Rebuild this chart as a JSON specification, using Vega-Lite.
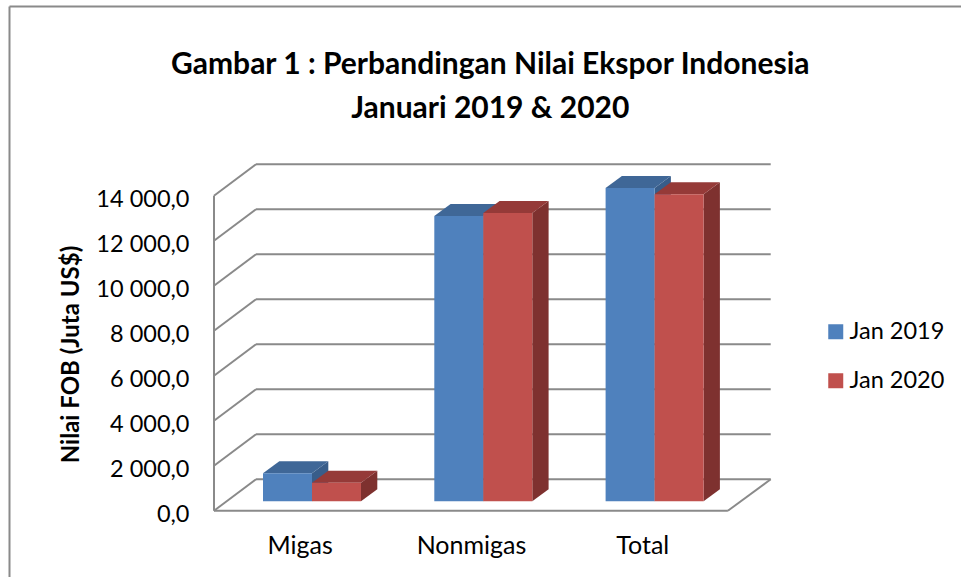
{
"$schema":"https://vega.github.io/schema/vega-lite/v6.json",
"width":951.5,"height":570.5,
"autosize":"none",
"padding":{"left":9.5,"top":6.5,"right":0,"bottom":0},
"background":"white",
"config":{"view":{"stroke":null},"font":"Lato"},
"title":{"text":["Gambar 1 : Perbandingan Nilai Ekspor Indonesia","Januari 2019 & 2020"],"font":"Lato","fontSize":30,"fontWeight":"bold","color":"#000000","anchor":"middle","frame":"group","lineHeight":44,"offset":-118,"dx":5},
"datasets":{
"nilai":[
{"kategori":"Migas","seri":"Jan 2019","nilai":1244},
{"kategori":"Migas","seri":"Jan 2020","nilai":827},
{"kategori":"Nonmigas","seri":"Jan 2019","nilai":12680},
{"kategori":"Nonmigas","seri":"Jan 2020","nilai":12813},
{"kategori":"Total","seri":"Jan 2019","nilai":13924},
{"kategori":"Total","seri":"Jan 2020","nilai":13644}],
"ticks":[{"v":0},{"v":2000},{"v":4000},{"v":6000},{"v":8000},{"v":10000},{"v":12000},{"v":14000}]
},
"resolve":{"axis":{"x":"independent","y":"independent"}},
"layer":[
{"data":{"values":[{"b":"kiri"}]},"mark":{"type":"rule","color":"#8a8a8a","strokeWidth":2},
 "encoding":{"x":{"datum":-1.6938,"type":"quantitative","scale":{"domain":[-1.6938,3.8608]},"axis":null}}},
{"data":{"values":[{"b":"atas"}]},"mark":{"type":"rule","color":"#8a8a8a","strokeWidth":2},
 "encoding":{"y":{"datum":22409,"type":"quantitative","scale":{"domain":[-2947,22409]},"axis":null}}},
{"data":{"name":"ticks"},
 "transform":[{"calculate":"datum.v+1396","as":"vb"},{"calculate":"-0.2548","as":"xb"},{"calculate":"2.75","as":"xe"}],
 "mark":{"type":"rule","color":"#8a8a8a","strokeWidth":2},
 "encoding":{
  "x":{"field":"xb","type":"quantitative","scale":{"domain":[-1.6938,3.8608],"nice":false,"zero":false},
   "axis":{"orient":"bottom","title":null,"values":[0,1,2],"offset":-66.3,"domain":false,"ticks":false,"grid":false,"labelFontSize":25,"labelFont":"Lato","labelColor":"#000000","labelPadding":23,"labelExpr":"['Migas','Nonmigas','Total'][datum.value]"}},
  "x2":{"field":"xe"},
  "y":{"field":"vb","type":"quantitative","scale":{"domain":[-2947,22409],"nice":false,"zero":false},
   "axis":{"orient":"left","title":"Nilai FOB (Juta US$)","values":[0,2000,4000,6000,8000,10000,12000,14000],"offset":-204.5,"domain":false,"ticks":false,"grid":false,"labelFontSize":23.5,"labelFont":"Lato","labelColor":"#000000","labelPadding":25,"labelOffset":3.5,"labelExpr":"replace(replace(format(datum.value,',.1f'),',',' '),'.',',')","titleFont":"Lato","titleFontSize":24,"titleFontWeight":"bold","titleColor":"#000000","titleX":-131,"titleY":347.5}}
 }},
{"data":{"name":"ticks"},
 "transform":[{"calculate":"datum.v+1396","as":"vb"},{"calculate":"-0.5","as":"xa"},{"calculate":"-0.2548","as":"xb"}],
 "mark":{"type":"rule","color":"#8a8a8a","strokeWidth":2},
 "encoding":{
  "x":{"field":"xa","type":"quantitative","scale":{"domain":[-1.6938,3.8608]},"axis":null},
  "x2":{"field":"xb"},
  "y":{"field":"v","type":"quantitative","scale":{"domain":[-2947,22409]},"axis":null},
  "y2":{"field":"vb"}}},
{"data":{"values":[{"xa":-0.5,"xb":-0.5,"ya":0,"yb":14000},{"xa":-0.5,"xb":2.5,"ya":0,"yb":0},{"xa":2.5,"xb":2.75,"ya":0,"yb":1396}]},
 "mark":{"type":"rule","color":"#8a8a8a","strokeWidth":2},
 "encoding":{
  "x":{"field":"xa","type":"quantitative","scale":{"domain":[-1.6938,3.8608]},"axis":null},
  "x2":{"field":"xb"},
  "y":{"field":"ya","type":"quantitative","scale":{"domain":[-2947,22409]},"axis":null},
  "y2":{"field":"yb"}}},
{"data":{"name":"nilai"},
 "transform":[
  {"filter":"datum.seri=='Jan 2019'"},
  {"calculate":"indexof(['Migas','Nonmigas','Total'],datum.kategori)+0.0721-0.286","as":"x0"},
  {"fold":["dekat","jauh"],"as":["sisi","sv"]},
  {"calculate":"datum.x0+0.286+(datum.sisi=='jauh'?0.0952:0)","as":"sx"},
  {"calculate":"datum.nilai+418+(datum.sisi=='jauh'?533:0)","as":"sy"},
  {"calculate":"418+(datum.sisi=='jauh'?533:0)","as":"sy2"}],
 "mark":{"type":"area","orient":"vertical","fill":"#385d8a","line":false,"point":false},
 "encoding":{
  "x":{"field":"sx","type":"quantitative","scale":{"domain":[-1.6938,3.8608]},"axis":null},
  "y":{"field":"sy","type":"quantitative","scale":{"domain":[-2947,22409]},"axis":null},
  "y2":{"field":"sy2"},
  "detail":{"field":"kategori"}}},
{"data":{"name":"nilai"},
 "transform":[
  {"filter":"datum.seri=='Jan 2020'"},
  {"calculate":"indexof(['Migas','Nonmigas','Total'],datum.kategori)+0.0721","as":"x0"},
  {"fold":["dekat","jauh"],"as":["sisi","sv"]},
  {"calculate":"datum.x0+0.286+(datum.sisi=='jauh'?0.0952:0)","as":"sx"},
  {"calculate":"datum.nilai+418+(datum.sisi=='jauh'?533:0)","as":"sy"},
  {"calculate":"418+(datum.sisi=='jauh'?533:0)","as":"sy2"}],
 "mark":{"type":"area","orient":"vertical","fill":"#7e312f"},
 "encoding":{
  "x":{"field":"sx","type":"quantitative","scale":{"domain":[-1.6938,3.8608]},"axis":null},
  "y":{"field":"sy","type":"quantitative","scale":{"domain":[-2947,22409]},"axis":null},
  "y2":{"field":"sy2"},
  "detail":{"field":"kategori"}}},
{"data":{"name":"nilai"},
 "transform":[
  {"calculate":"indexof(['Migas','Nonmigas','Total'],datum.kategori)+0.0721+(datum.seri=='Jan 2019'?-0.286:0)","as":"x0"},
  {"calculate":"datum.x0+0.143","as":"xc"},
  {"calculate":"datum.nilai+418","as":"yt"}],
 "mark":{"type":"point","shape":"M-24.5,0 L-8.2,-12 L40.8,-12 L24.5,0 Z","size":4,"filled":true,"opacity":1,"strokeWidth":0},
 "encoding":{
  "x":{"field":"xc","type":"quantitative","scale":{"domain":[-1.6938,3.8608]},"axis":null},
  "y":{"field":"yt","type":"quantitative","scale":{"domain":[-2947,22409]},"axis":null},
  "color":{"condition":{"test":"datum.seri=='Jan 2019'","value":"#3f6797"},"value":"#953a38"}}},
{"data":{"name":"nilai"},
 "transform":[
  {"calculate":"indexof(['Migas','Nonmigas','Total'],datum.kategori)+0.0721+(datum.seri=='Jan 2019'?-0.286:0)","as":"x0"},
  {"calculate":"datum.x0+0.286","as":"x1"},
  {"calculate":"datum.nilai+418","as":"yt"},
  {"calculate":"418","as":"yb"}],
 "mark":{"type":"rect","strokeWidth":0},
 "encoding":{
  "x":{"field":"x0","type":"quantitative","scale":{"domain":[-1.6938,3.8608]},"axis":null},
  "x2":{"field":"x1"},
  "y":{"field":"yt","type":"quantitative","scale":{"domain":[-2947,22409]},"axis":null},
  "y2":{"field":"yb"},
  "color":{"field":"seri","type":"nominal","scale":{"domain":["Jan 2019","Jan 2020"],"range":["#4f81bd","#c0504d"]},
   "legend":{"title":null,"orient":"none","legendX":814.5,"legendY":313.5,"symbolType":"square","symbolSize":225,"symbolStrokeWidth":0,"symbolOpacity":1,"labelFont":"Lato","labelFontSize":23.5,"labelColor":"#000000","labelOffset":2,"rowPadding":24,"padding":0}}}}
]
}
